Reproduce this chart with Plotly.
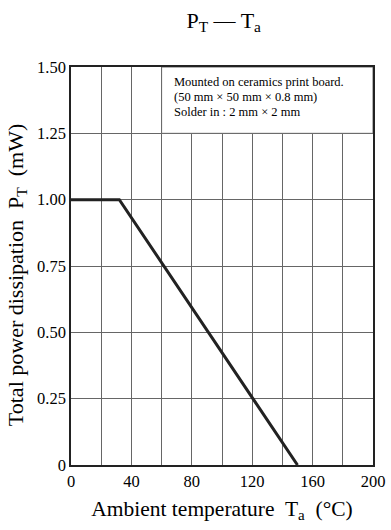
import plotly.graph_objects as go

temp = [0, 32, 150]
power = [1.0, 1.0, 0.0]
x_ticks = [0, 40, 80, 120, 160, 200]
x_ticklabels = ["0", "40", "80", "120", "160", "200"]
y_ticks = [0, 0.25, 0.5, 0.75, 1.0, 1.25, 1.5]
y_ticklabels = ["0", "0.25", "0.50", "0.75", "1.00", "1.25", "1.50"]
note_lines = ["Mounted on ceramics print board.",
              "(50 mm × 50 mm × 0.8 mm)",
              "Solder in : 2 mm × 2 mm"]

FONT = "Liberation Serif"

fig = go.Figure()
fig.add_trace(go.Scatter(x=temp, y=power, mode="lines",
                         line=dict(color="#222222", width=3), showlegend=False))

# box covering grid in note region
fig.add_shape(type="rect", x0=60, x1=200, y0=1.25, y1=1.5, xref="x", yref="y",
              fillcolor="white", line=dict(color="#666666", width=1), layer="between")

for i, line in enumerate(note_lines):
    fig.add_annotation(x=60, y=1.5, xref="x", yref="y", xanchor="left", yanchor="middle",
                       xshift=10, yshift=-15 - 15 * i, showarrow=False, align="left",
                       text=line, font=dict(family=FONT, size=12.5, color="black"))

# y-axis title as annotation for exact placement
fig.add_annotation(x=0, y=0.477, xref="paper", yref="paper", xanchor="center",
                   yanchor="middle", xshift=-54, showarrow=False, textangle=-90,
                   text="Total power dissipation  P<sub>T</sub>  (mW)",
                   font=dict(family=FONT, size=22, color="black"))

fig.update_layout(
    width=391, height=530,
    margin=dict(l=71, r=18, t=67, b=65),
    paper_bgcolor="white", plot_bgcolor="white",
    font=dict(family=FONT, color="black"),
    title=dict(text="P<sub>T</sub> — T<sub>a</sub>", x=0.572, xanchor="center",
               y=0.962, yanchor="middle", font=dict(family=FONT, size=22)),
)
fig.update_xaxes(range=[0, 200], tickvals=x_ticks, ticktext=x_ticklabels,
                 automargin=False,
                 showgrid=True, gridcolor="#666666", gridwidth=1,
                 minor=dict(tickvals=list(range(0, 201, 20)), showgrid=True,
                            gridcolor="#666666", gridwidth=1),
                 showline=True, linecolor="#222222", linewidth=1.5, mirror=True,
                 ticks="", zeroline=False, tickfont=dict(size=16.5),
                 title=dict(text="Ambient temperature  T<sub>a</sub>  (°C)",
                            font=dict(size=21.5), standoff=11))
fig.update_yaxes(range=[0, 1.5], tickvals=y_ticks, ticktext=y_ticklabels,
                 automargin=False,
                 showgrid=True, gridcolor="#666666", gridwidth=1,
                 showline=True, linecolor="#222222", linewidth=1.5, mirror=True,
                 ticks="", zeroline=False, tickfont=dict(size=16.5))

fig.write_html("out.html")
